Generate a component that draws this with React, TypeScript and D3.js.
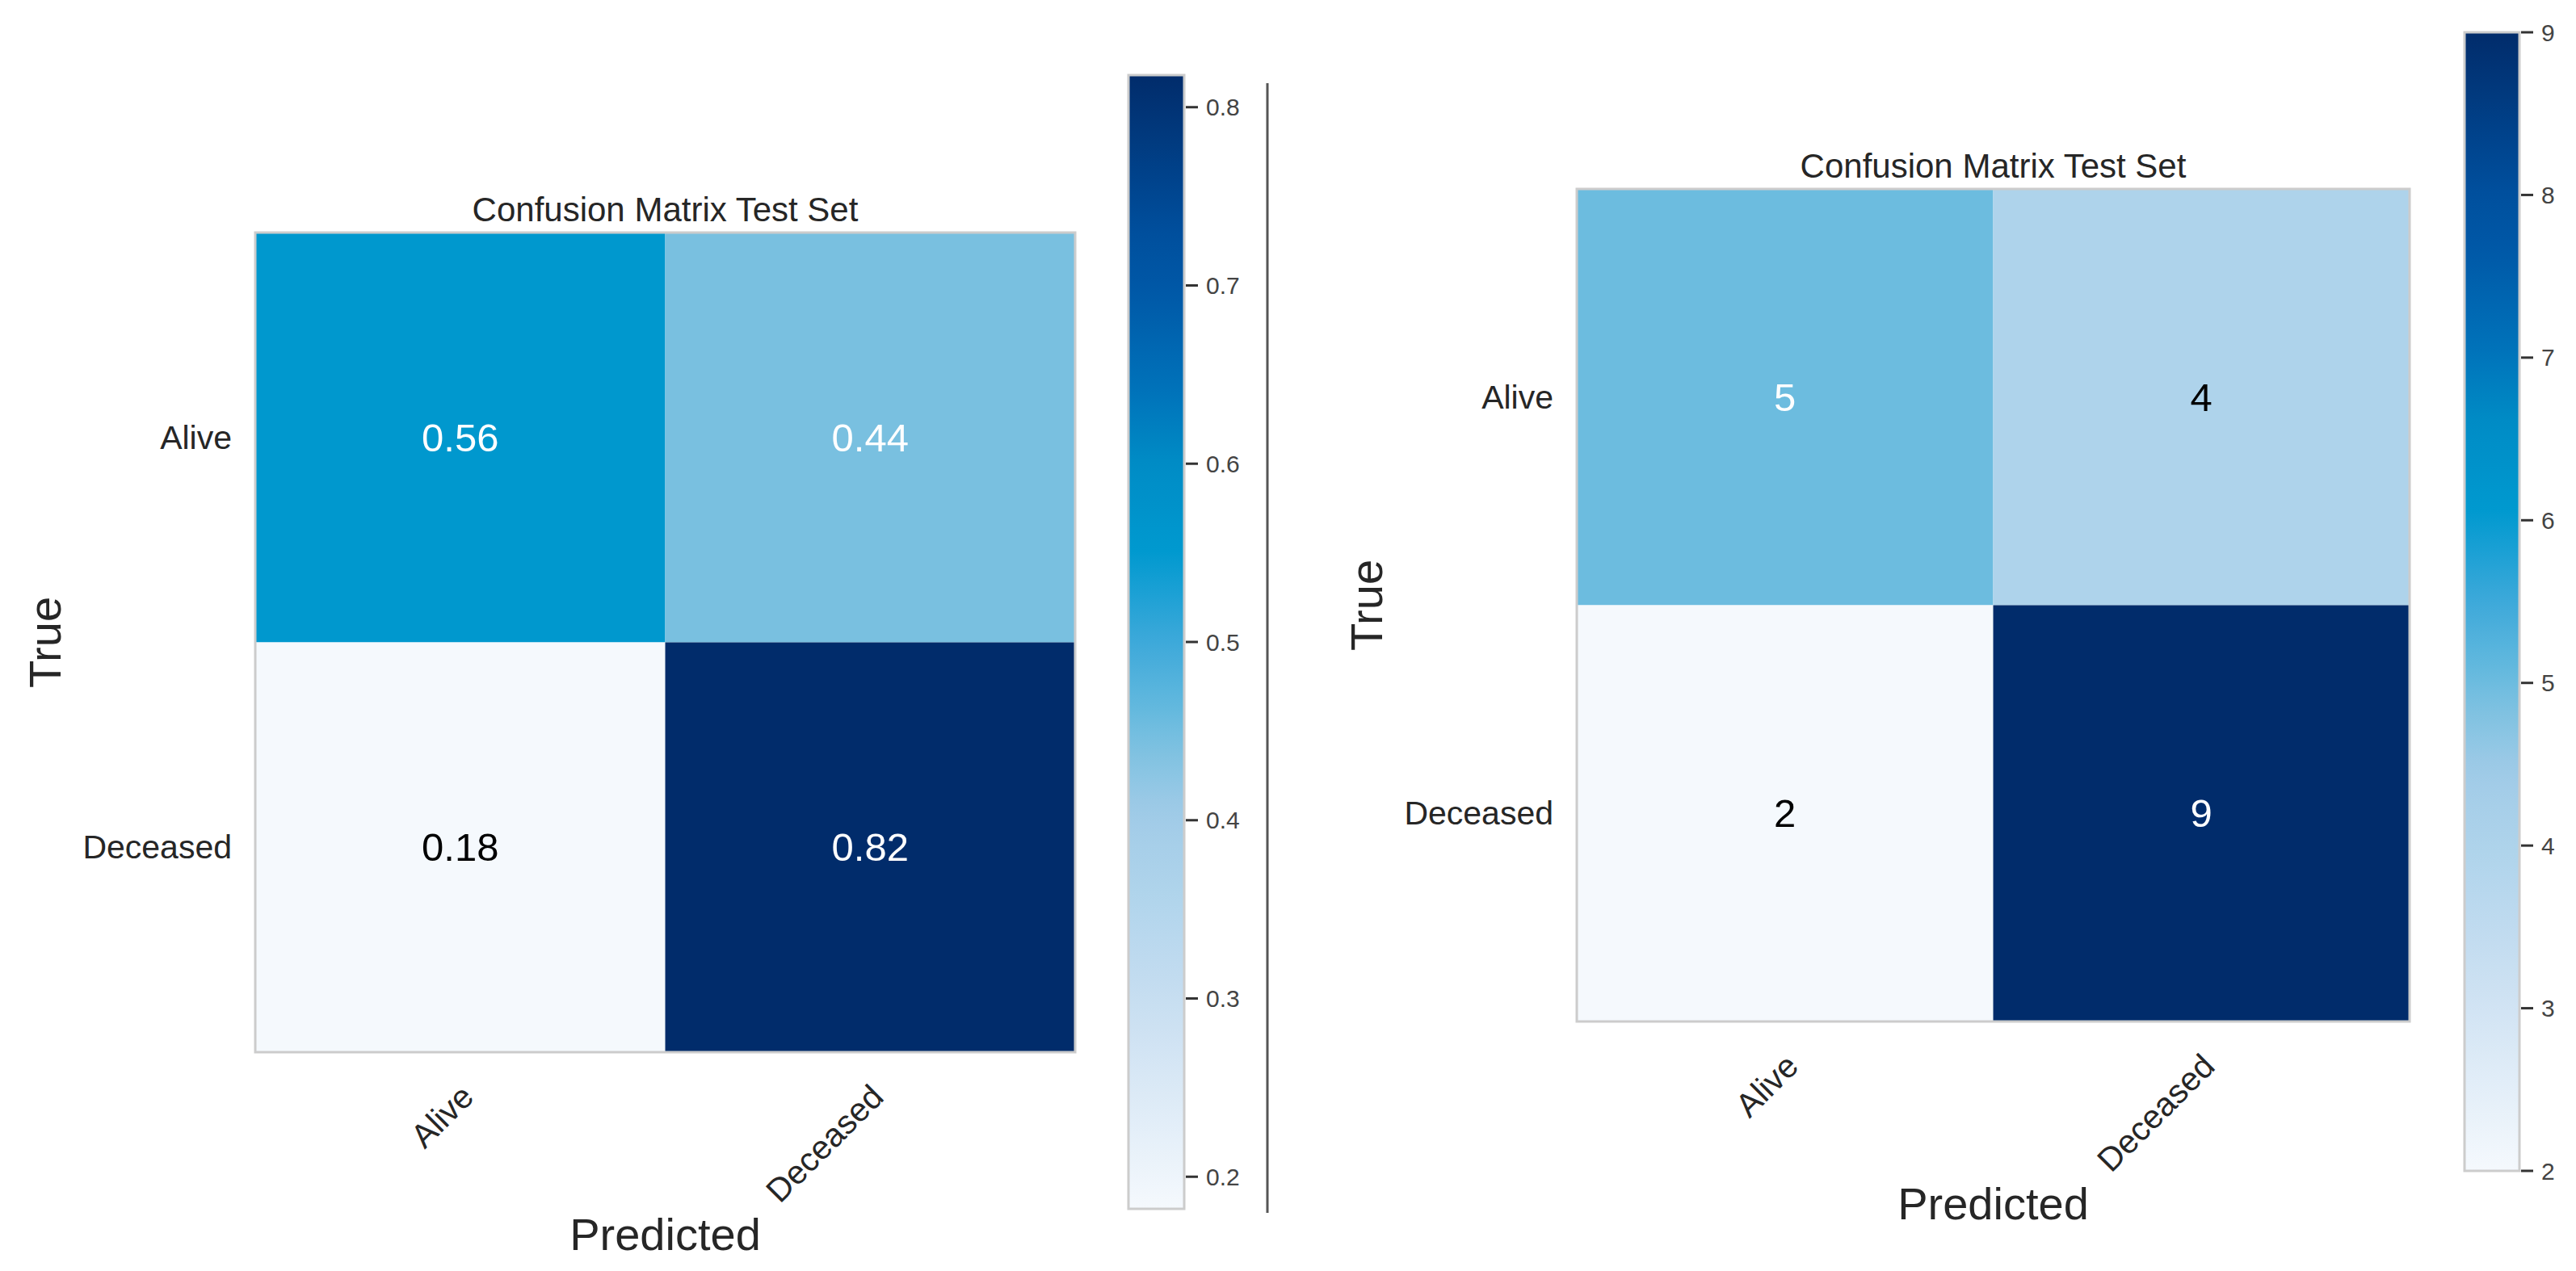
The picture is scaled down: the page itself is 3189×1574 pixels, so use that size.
import React from 'react';
import * as d3 from 'd3';

const categories = ['Alive', 'Deceased'];
const normalizedValues = [
  [0.556, 0.444],
  [0.182, 0.818],
];
const countValues = [
  [5, 4],
  [2, 9],
];
const normalizedTicks = [0.2, 0.3, 0.4, 0.5, 0.6, 0.7, 0.8];
const countTicks = [2, 3, 4, 5, 6, 7, 8, 9];
const chartTitle = 'Confusion Matrix Test Set';
const xLabel = 'Predicted';
const yLabel = 'True';

// Colour map (sampled from the colour bars).
const cmapStops = [0, 0.15, 0.286, 0.35, 0.41, 0.43, 0.5, 0.58, 0.66, 0.72, 0.81, 0.86, 1];
const cmapColors = ['#f5f9fd', '#cfe2f3', '#aed3eb', '#a0cbe7', '#7bc0e0', '#6bbcdf', '#3da9da',
  '#0099cf', '#008bc5', '#0073ba', '#0058a7', '#004f9d', '#012c6b'];

const cmap = d3.scaleLinear<string>()
  .domain(cmapStops)
  .range(cmapColors)
  .interpolate(d3.interpolateRgb)
  .clamp(true);

const FONT = '"Liberation Sans", Arial, Helvetica, sans-serif';
const TEXT = '#262626';
const EDGE = '#cccccc';

interface PanelProps {
  id: string;
  values: number[][];
  ticks: number[];
  cellFormat: (v: number) => string;
  tickFormat: (v: number) => string;
  left: number;
  top: number;
  size: number;
  bar: { x: number; y: number; w: number; h: number };
}

const Panel: React.FC<PanelProps> = ({ id, values, ticks, cellFormat, tickFormat, left, top, size, bar }) => {
  const flat = values.flat();
  const vmin = d3.min(flat) as number;
  const vmax = d3.max(flat) as number;
  const thresh = vmax / 2;

  const x = d3.scaleBand().domain(categories).range([left, left + size]);
  const y = d3.scaleBand().domain(categories).range([top, top + size]);
  const t = d3.scaleLinear().domain([vmin, vmax]).range([0, 1]);
  const barY = d3.scaleLinear().domain([vmin, vmax]).range([bar.y + bar.h, bar.y]);

  const gradStops = d3.range(0, 1.0001, 0.02);
  const cx = left + size / 2;
  const cy = top + size / 2;
  const bottom = top + size;

  return (
    <g>
      <defs>
        <linearGradient id={`grad-${id}`} x1="0" y1="1" x2="0" y2="0">
          {gradStops.map((s) => (
            <stop key={s} offset={s} stopColor={cmap(s)} />
          ))}
        </linearGradient>
      </defs>

      {/* cells */}
      {values.map((row, i) =>
        row.map((v, j) => (
          <rect
            key={`c-${i}-${j}`}
            x={x(categories[j])}
            y={y(categories[i])}
            width={x.bandwidth()}
            height={y.bandwidth()}
            fill={cmap(t(v))}
          />
        ))
      )}
      <rect x={left} y={top} width={size} height={size} fill="none" stroke={EDGE} strokeWidth={3} />

      {/* cell annotations */}
      {values.map((row, i) =>
        row.map((v, j) => (
          <text
            key={`a-${i}-${j}`}
            x={(x(categories[j]) as number) + x.bandwidth() / 2}
            y={(y(categories[i]) as number) + y.bandwidth() / 2}
            textAnchor="middle"
            dominantBaseline="central"
            fontSize={49}
            fill={v > thresh ? '#ffffff' : '#000000'}
          >
            {cellFormat(v)}
          </text>
        ))
      )}

      {/* y tick labels */}
      {categories.map((c) => (
        <text
          key={`y-${c}`}
          x={left - 29}
          y={(y(c) as number) + y.bandwidth() / 2}
          textAnchor="end"
          dominantBaseline="central"
          fontSize={41}
          fill={TEXT}
        >
          {c}
        </text>
      ))}

      {/* x tick labels, rotated */}
      {categories.map((c) => (
        <text
          key={`x-${c}`}
          transform={`translate(${(x(c) as number) + x.bandwidth() / 2},${bottom + 39}) rotate(-45)`}
          textAnchor="end"
          dy="0.65em"
          fontSize={41}
          fill={TEXT}
        >
          {c}
        </text>
      ))}

      {/* title and axis labels */}
      <text x={cx} y={top - 14} textAnchor="middle" fontSize={42} fill={TEXT}>
        {chartTitle}
      </text>
      <text x={cx} y={bottom + 245} textAnchor="middle" fontSize={56} fill={TEXT}>
        {xLabel}
      </text>
      <text
        transform={`translate(${left - 261},${cy}) rotate(-90)`}
        textAnchor="middle"
        dominantBaseline="central"
        fontSize={56}
        fill={TEXT}
      >
        {yLabel}
      </text>

      {/* colour bar */}
      <rect x={bar.x} y={bar.y} width={bar.w} height={bar.h} fill={`url(#grad-${id})`} stroke={EDGE} strokeWidth={3} />
      {ticks.map((tk) => (
        <g key={`t-${tk}`} transform={`translate(${bar.x + bar.w},${barY(tk)})`}>
          <line x1={2} x2={17} stroke="#333333" strokeWidth={3} />
          <text x={27} dominantBaseline="central" fontSize={30} fill="#444444">
            {tickFormat(tk)}
          </text>
        </g>
      ))}
    </g>
  );
};

const App: React.FC = () => {
  const width = 3189;
  const height = 1574;
  return (
    <svg
      width={width}
      height={height}
      style={{ position: 'absolute', left: 0, top: 0, background: '#ffffff' }}
      fontFamily={FONT}
    >
      <rect width={width} height={height} fill="#ffffff" />
      <Panel
        id="norm"
        values={normalizedValues}
        ticks={normalizedTicks}
        cellFormat={d3.format('.2f')}
        tickFormat={d3.format('.1f')}
        left={316}
        top={288}
        size={1015}
        bar={{ x: 1397, y: 93, w: 69, h: 1404 }}
      />
      <line x1={1569} x2={1569} y1={103} y2={1502} stroke="#555555" strokeWidth={3} />
      <Panel
        id="count"
        values={countValues}
        ticks={countTicks}
        cellFormat={d3.format('d')}
        tickFormat={d3.format('d')}
        left={1952}
        top={234}
        size={1031}
        bar={{ x: 3051, y: 40, w: 68, h: 1410 }}
      />
    </svg>
  );
};

export default App;
